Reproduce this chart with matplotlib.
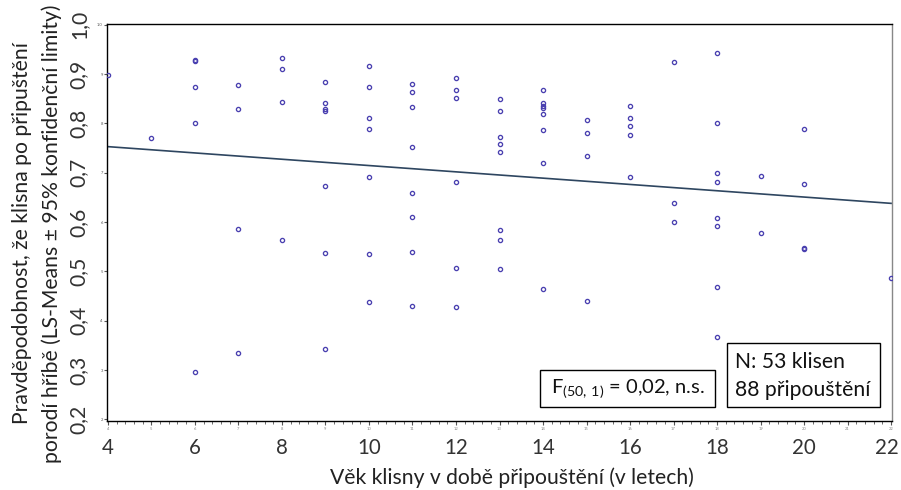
import matplotlib
matplotlib.use("Agg")
import matplotlib.pyplot as plt
from matplotlib.patches import Rectangle
from matplotlib.transforms import ScaledTranslation

plt.rcParams['font.family'] = ['Lato', 'DejaVu Sans']
plt.rcParams['mathtext.fontset'] = 'custom'
plt.rcParams['mathtext.rm'] = 'Lato'

# ---- data ----
mare_age = [4, 5,
            6, 6, 6, 6, 6,
            7, 7, 7, 7,
            8, 8, 8, 8,
            9, 9, 9, 9, 9, 9, 9,
            10, 10, 10, 10, 10, 10, 10,
            11, 11, 11, 11, 11, 11, 11, 11,
            12, 12, 12, 12, 12, 12,
            13, 13, 13, 13, 13, 13, 13, 13,
            14, 14, 14, 14, 14, 14, 14, 14,
            15, 15, 15, 15,
            16, 16, 16, 16, 16,
            17, 17, 17,
            18, 18, 18, 18, 18, 18, 18, 18,
            19, 19,
            20, 20, 20, 20,
            22]
foal_prob = [0.898, 0.771,
             0.929, 0.927, 0.873, 0.801, 0.297,
             0.878, 0.829, 0.587, 0.334,
             0.932, 0.911, 0.844, 0.563,
             0.884, 0.841, 0.829, 0.826, 0.674, 0.537, 0.342,
             0.916, 0.873, 0.812, 0.789, 0.691, 0.535, 0.438,
             0.880, 0.863, 0.834, 0.753, 0.659, 0.611, 0.539, 0.430,
             0.893, 0.868, 0.852, 0.682, 0.507, 0.428,
             0.849, 0.825, 0.773, 0.758, 0.742, 0.585, 0.563, 0.504,
             0.868, 0.841, 0.836, 0.831, 0.820, 0.787, 0.720, 0.465,
             0.808, 0.781, 0.733, 0.440,
             0.836, 0.811, 0.794, 0.776, 0.692,
             0.924, 0.638, 0.601,
             0.943, 0.800, 0.700, 0.682, 0.609, 0.592, 0.468, 0.368,
             0.694, 0.578,
             0.789, 0.678, 0.548, 0.546,
             0.486]

fit_age = [4, 22]
fit_prob = [0.753, 0.638]

x_major_labels = [4, 6, 8, 10, 12, 14, 16, 18, 20, 22]
y_ticks = [0.2, 0.3, 0.4, 0.5, 0.6, 0.7, 0.8, 0.9, 1.0]
y_tick_labels = ['0,2', '0,3', '0,4', '0,5', '0,6', '0,7', '0,8', '0,9', '1,0']

x_title = 'Věk klisny v době připouštění (v letech)'
y_title_1 = 'Pravděpodobnost, že klisna po připuštění'
y_title_2 = 'porodí hříbě (LS-Means ± 95% konfidenční limity)'
stat_text = r'F$_{\mathregular{(50,\,1)}}$ = 0,02, n.s.'
n_text = ['N: 53 klisen', '88 připouštění']

FS = 15.2

# ---- figure ----
W, H = 901, 490
fig = plt.figure(figsize=(W / 100, H / 100), dpi=100)
ax = fig.add_axes([107 / W, 1 - 421 / H, (892 - 107) / W, (421 - 24) / H])

ax.plot(fit_age, fit_prob, color='#2E4660', lw=1.2, zorder=2)
ax.plot(mare_age, foal_prob, linestyle='none', marker='o', ms=3.0,
        mfc='none', mec='#4A40B0', mew=0.95, zorder=3)

ax.set_xlim(3.98, 22.02)
ax.set_ylim(0.1968, 1.0016)

# primary axes: tiny SAS-like tick labels
ax.set_xticks(range(4, 23))
ax.set_xticklabels([str(v) for v in range(4, 23)])
ax.set_xticks([4 + 0.2 * i for i in range(91)], minor=True)
ax.tick_params(axis='x', which='major', length=3, width=0.8, labelsize=3,
               pad=1, colors='#555555', labelcolor='#888888')
ax.tick_params(axis='x', which='minor', length=2, width=0.6, colors='#555555')
ax.set_yticks(y_ticks)
ax.set_yticklabels([t.split(',')[1] if t != '1,0' else '1.0' for t in y_tick_labels])
ax.tick_params(axis='y', which='major', length=2, width=0.8, labelsize=3,
               pad=1, colors='#555555', labelcolor='#555555')

for s in ['left', 'bottom', 'top']:
    ax.spines[s].set_color('black')
    ax.spines[s].set_linewidth(1.0)
ax.spines['right'].set_color('#888888')
ax.spines['right'].set_linewidth(1.0)

# big labels
secx = ax.secondary_xaxis('bottom')
secx.set_xticks(x_major_labels)
secx.set_xticklabels([str(v) for v in x_major_labels])
secx.tick_params(length=0, labelsize=14.8, pad=12, colors='#333333')
secx.spines['bottom'].set_visible(False)
last = secx.get_xticklabels()[-1]
last.set_transform(last.get_transform() + ScaledTranslation(-4 / 100, 0, fig.dpi_scale_trans))

secy = ax.secondary_yaxis('left')
secy.set_yticks(y_ticks)
secy.set_yticklabels(y_tick_labels, rotation=90, va='center')
secy.tick_params(length=0, labelsize=FS, pad=13, colors='#333333')
secy.spines['left'].set_visible(False)

fig.text(512 / W, 1 - 478 / H, x_title, ha='center', va='center',
         fontsize=FS, color='#222222')
fig.text(22 / W, 1 - 233 / H, y_title_1, ha='center', va='center',
         rotation=90, fontsize=FS, color='#222222')
fig.text(52 / W, 1 - 234 / H, y_title_2, ha='center', va='center',
         rotation=90, fontsize=FS, color='#222222')

# annotation boxes
def box(x0, y0, x1, y1):
    fig.patches.append(Rectangle((x0 / W, 1 - y1 / H), (x1 - x0) / W, (y1 - y0) / H,
                                 transform=fig.transFigure, facecolor='white',
                                 edgecolor='black', lw=1.0, zorder=5))

box(540, 370, 715, 407)
fig.text(628 / W, 1 - 389 / H, stat_text, ha='center', va='center',
         fontsize=14.5, color='#111111', zorder=6)
box(727, 343, 880, 407)
fig.text(735 / W, 1 - 362 / H, n_text[0], ha='left', va='center',
         fontsize=FS, color='#111111', zorder=6)
fig.text(735 / W, 1 - 390 / H, n_text[1], ha='left', va='center',
         fontsize=FS, color='#111111', zorder=6)

fig.savefig('out.png', dpi=100)
